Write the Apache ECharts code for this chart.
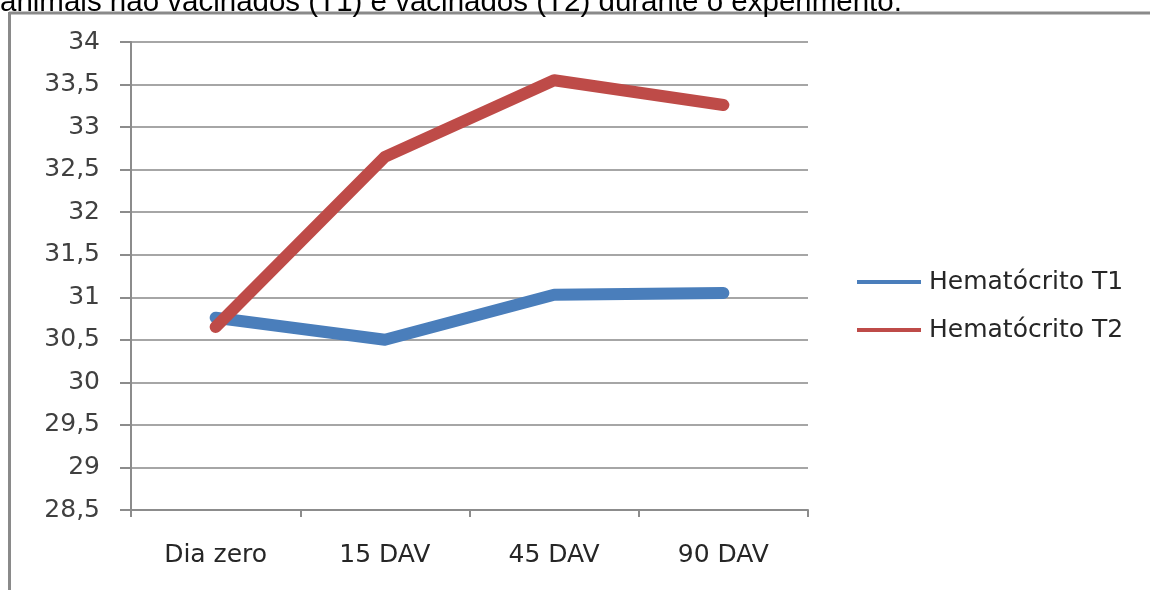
<!DOCTYPE html>
<html>
<head>
<meta charset="utf-8">
<script src="https://cdn.jsdelivr.net/npm/echarts@6/dist/echarts.min.js"></script>
<style>
html,body{margin:0;padding:0;background:#fff;}
#c{width:1150px;height:590px;}
</style>
</head>
<body>
<div id="c"></div>
<script>
var categories = ['Dia zero', '15 DAV', '45 DAV', '90 DAV'];
var hematocritoT1 = [30.76, 30.5, 31.03, 31.05];
var hematocritoT2 = [30.65, 32.65, 33.55, 33.26];
var seriesNames = ['Hematócrito T1', 'Hematócrito T2'];
var captionText = 'animais não vacinados (T1) e vacinados (T2) durante o experimento.';
var yMin = 28.5, yMax = 34, yStep = 0.5;

var chart = echarts.init(document.getElementById('c'), null, {renderer: 'canvas'});
var font = '"DejaVu Sans", "Open Sans", sans-serif';
chart.setOption({
  backgroundColor: '#ffffff',
  animation: false,
  graphic: [
    {type: 'text', left: 0, top: -12, style: {text: captionText, font: '29.5px "Liberation Sans", Arial, sans-serif', fill: '#000'}, z: 10},
    {type: 'line', shape: {x1: 9, y1: 13, x2: 1150, y2: 13}, style: {stroke: '#8a8a8a', lineWidth: 3}},
    {type: 'line', shape: {x1: 9.5, y1: 12, x2: 9.5, y2: 590}, style: {stroke: '#8a8a8a', lineWidth: 3}}
  ],
  grid: {left: 131, right: 342, top: 42, bottom: 80, containLabel: false},
  legend: {
    orient: 'vertical', left: 857, top: 268, padding: 0,
    itemWidth: 64, itemHeight: 4, itemGap: 20, icon: 'rect',
    textStyle: {fontFamily: font, fontSize: 25, color: '#262626', lineHeight: 28, padding: [0,0,0,3]},
    data: seriesNames
  },
  xAxis: {
    type: 'category', data: categories, boundaryGap: true,
    axisLine: {lineStyle: {color: '#8c8c8c', width: 2}},
    axisTick: {show: true, length: 7, lineStyle: {color: '#8c8c8c', width: 2}},
    axisLabel: {fontFamily: font, fontSize: 25, color: '#262626', margin: 33}
  },
  yAxis: {
    type: 'value', min: yMin, max: yMax, interval: yStep,
    axisLine: {show: true, lineStyle: {color: '#8c8c8c', width: 2}},
    axisTick: {show: true, length: 11, lineStyle: {color: '#8c8c8c', width: 2}},
    splitLine: {lineStyle: {color: '#a6a6a6', width: 2}},
    axisLabel: {fontFamily: font, fontSize: 25, color: '#404040', margin: 31,
      formatter: function (v) { return String(v).replace('.', ','); }}
  },
  series: [
    {name: seriesNames[0], type: 'line', data: hematocritoT1, showSymbol: false, symbol: 'none',
      color: '#4a7ebb', lineStyle: {width: 12, color: '#4a7ebb', cap: 'round', join: 'round'}},
    {name: seriesNames[1], type: 'line', data: hematocritoT2, showSymbol: false, symbol: 'none',
      color: '#be4b48', lineStyle: {width: 12, color: '#be4b48', cap: 'round', join: 'round'}}
  ]
});
</script>
</body>
</html>
